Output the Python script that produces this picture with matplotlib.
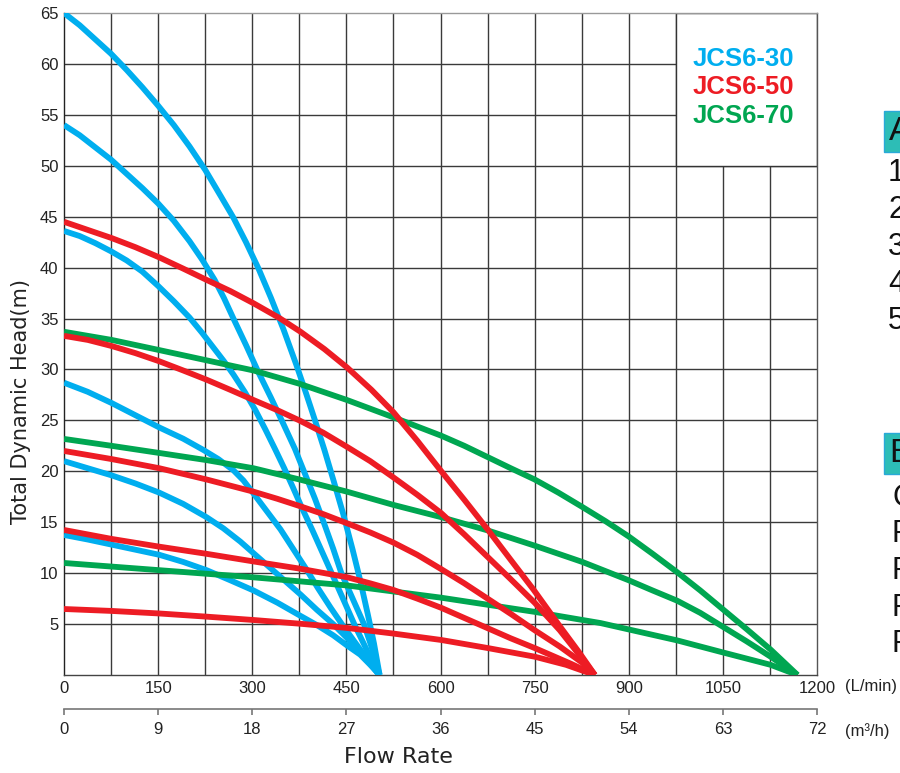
import matplotlib
matplotlib.use('Agg')
import matplotlib.pyplot as plt
from matplotlib.patches import Rectangle

# ---- curve data: flow rate (L/min) vs total dynamic head (m) ----
# JCS6-30 (blue), six stage curves
jcs30_q = [
    [0, 25, 50, 75, 100, 125, 150, 175, 200, 225, 250, 270, 290, 310, 330, 350, 370, 385,
     400, 415, 430, 445, 460, 472, 484, 494, 503],
    [0, 25, 50, 75, 100, 125, 150, 175, 200, 220, 240, 255, 270, 290, 310, 330, 350, 368,
     385, 400, 415, 429, 442, 460, 478, 491, 503],
    [0, 25, 50, 75, 100, 125, 150, 175, 200, 220, 240, 255, 270, 288, 305, 321, 337, 351,
     365, 380, 396, 412, 428, 446, 464, 483, 502],
    [0, 38, 76, 114, 152, 190, 222, 246, 270, 286, 301, 323, 345, 365, 385, 405, 425, 445,
     465, 484, 502],
    [0, 38, 76, 114, 152, 190, 227, 254, 281, 305, 329, 353, 377, 403, 429, 450, 470, 487, 503],
    [0, 38, 76, 114, 152, 190, 227, 265, 302, 340, 377, 403, 429, 451, 472, 488, 503],
]
jcs30_h = [
    [65.0, 63.8, 62.4, 61.0, 59.4, 57.7, 55.9, 54.0, 51.9, 49.6, 47.0, 44.9, 42.5, 39.9,
     37.0, 33.9, 30.5, 27.8, 25.0, 22.1, 19.0, 15.8, 12.3, 9.3, 6.0, 3.1, 0],
    [54.0, 53.0, 51.8, 50.6, 49.2, 47.8, 46.3, 44.6, 42.6, 40.8, 38.8, 37.0, 35.0, 32.4,
     29.7, 27.2, 24.6, 22.2, 19.6, 17.3, 14.8, 12.4, 10.0, 7.5, 5.0, 2.6, 0],
    [43.6, 43.1, 42.4, 41.6, 40.7, 39.6, 38.2, 36.7, 35.1, 33.6, 32.0, 30.8, 29.5, 27.8,
     26.0, 24.1, 22.1, 20.3, 18.4, 16.3, 14.2, 12.0, 9.8, 7.3, 4.8, 2.4, 0],
    [28.7, 27.8, 26.7, 25.5, 24.3, 23.2, 22.1, 21.2, 20.1, 19.1, 17.9, 16.1, 14.3, 12.4,
     10.5, 8.5, 6.6, 4.8, 3.1, 1.5, 0],
    [21.0, 20.3, 19.6, 18.8, 17.9, 16.8, 15.5, 14.4, 13.1, 11.8, 10.5, 9.2, 7.9, 6.4, 5.0,
     3.7, 2.4, 1.2, 0],
    [13.75, 13.3, 12.8, 12.3, 11.8, 11.1, 10.3, 9.3, 8.3, 7.1, 5.8, 4.9, 3.9, 2.9, 2.0,
     1.0, 0],
]

# JCS6-50 (red), five stage curves
jcs50_q = [
    [0, 38, 76, 114, 152, 190, 227, 265, 302, 342, 377, 415, 451, 490, 525, 563, 600, 638,
     675, 712, 748, 790, 820, 846],
    [0, 38, 76, 114, 152, 190, 227, 265, 302, 340, 375, 413, 451, 488, 525, 563, 601, 638,
     675, 712, 750, 790, 826, 846],
    [0, 76, 152, 227, 302, 340, 375, 413, 451, 488, 525, 563, 601, 638, 675, 712, 750, 790,
     826, 846],
    [0, 76, 152, 227, 302, 375, 451, 488, 525, 563, 601, 638, 675, 712, 750, 808, 846],
    [0, 76, 152, 227, 302, 377, 451, 526, 601, 675, 750, 800, 846],
]
jcs50_h = [
    [44.5, 43.7, 42.9, 42.0, 41.0, 39.9, 38.8, 37.7, 36.5, 35.1, 33.7, 32.0, 30.2, 28.0,
     25.8, 23.0, 20.1, 17.2, 14.3, 11.3, 8.4, 4.8, 2.3, 0],
    [33.3, 32.9, 32.3, 31.6, 30.8, 29.9, 29.0, 28.0, 27.0, 26.0, 25.0, 23.8, 22.4, 21.0,
     19.4, 17.7, 15.9, 13.8, 11.6, 9.4, 7.1, 4.4, 1.6, 0],
    [22.0, 21.2, 20.3, 19.2, 18.0, 17.3, 16.6, 15.8, 14.9, 14.0, 13.0, 11.8, 10.4, 9.0,
     7.5, 6.0, 4.4, 2.8, 1.2, 0],
    [14.24, 13.36, 12.6, 11.9, 11.15, 10.45, 9.6, 9.0, 8.35, 7.5, 6.6, 5.6, 4.6, 3.6, 2.65,
     1.1, 0],
    [6.48, 6.29, 6.04, 5.73, 5.40, 5.03, 4.62, 4.06, 3.44, 2.65, 1.80, 1.0, 0],
]

# JCS6-70 (green), three stage curves
jcs70_q = [
    [0, 76, 152, 227, 302, 375, 451, 525, 563, 601, 638, 675, 712, 750, 788, 826, 863, 900,
     938, 977, 1014, 1051, 1088, 1126, 1169],
    [0, 76, 152, 227, 302, 375, 451, 525, 601, 675, 750, 826, 900, 938, 977, 1014, 1051,
     1088, 1126, 1169],
    [0, 150, 300, 450, 600, 750, 855, 977, 1051, 1126, 1169],
]
jcs70_h = [
    [33.7, 32.9, 31.9, 30.9, 29.9, 28.6, 27.0, 25.3, 24.4, 23.5, 22.5, 21.4, 20.3, 19.2,
     17.9, 16.5, 15.1, 13.6, 11.9, 10.1, 8.3, 6.4, 4.5, 2.5, 0],
    [23.18, 22.5, 21.8, 21.1, 20.3, 19.2, 18.0, 16.7, 15.5, 14.2, 12.7, 11.1, 9.3, 8.3,
     7.3, 6.1, 4.7, 3.3, 1.8, 0],
    [11.0, 10.3, 9.6, 8.8, 7.6, 6.2, 5.1, 3.4, 2.2, 1.0, 0],
]

models = ['JCS6-30', 'JCS6-50', 'JCS6-70']
colors = ['#00AEEF', '#ED1C24', '#00A651']

x_ticks = [0, 150, 300, 450, 600, 750, 900, 1050, 1200]
m3h_ticks = [0, 9, 18, 27, 36, 45, 54, 63, 72]
y_ticks = [5, 10, 15, 20, 25, 30, 35, 40, 45, 50, 55, 60, 65]

side_numbers = ['1', '2', '3', '4', '5']
side_letters = ['C', 'P', 'P', 'P', 'P']

plt.rcParams['font.family'] = ['Liberation Sans', 'DejaVu Sans']

W, H = 900, 773
fig = plt.figure(figsize=(W / 100, H / 100), dpi=100)
ax = fig.add_axes([64 / W, 1 - 675 / H, (817 - 64) / W, (675 - 13) / H])

ax.set_xlim(0, 1200)
ax.set_ylim(0, 65)

# grid every 75 L/min and 5 m
grid_c = '#3a3a3a'
for q in range(75, 1200, 75):
    ax.axvline(q, color=grid_c, lw=1.0, zorder=1)
for h in range(5, 65, 5):
    ax.axhline(h, color=grid_c, lw=1.0, zorder=1)

# legend box cut out of the grid in the upper right
ax.add_patch(Rectangle((975, 50), 225, 15, facecolor='white', edgecolor='#333333',
                       lw=1.0, zorder=2))

# curves
for qs, hs, c in [(jcs30_q, jcs30_h, colors[0]),
                  (jcs70_q, jcs70_h, colors[2]),
                  (jcs50_q, jcs50_h, colors[1])]:
    for q, h in zip(qs, hs):
        ax.plot(q, h, color=c, lw=4.2, solid_capstyle='butt',
                solid_joinstyle='round', zorder=3)

for i, (name, c) in enumerate(zip(models, colors)):
    fig.text(693 / W, 1 - (59 + 28.5 * i) / H, name, color=c, fontsize=18.5,
             fontweight='bold', ha='left', va='center')

ax.set_xticks(x_ticks)
ax.set_yticks(y_ticks)
ax.tick_params(axis='both', length=0, labelsize=12, labelcolor='#222222')
ax.tick_params(axis='x', pad=4)
ax.tick_params(axis='y', pad=4)

ax.spines['left'].set_color('#222222')
ax.spines['bottom'].set_color('#444444')
ax.spines['right'].set_color('#555555')
ax.spines['top'].set_color('#999999')
for s in ax.spines.values():
    s.set_linewidth(1.0)

# second flow axis in m3/h
sec = ax.secondary_xaxis(-34 / 662, functions=(lambda q: q * 0.06, lambda m: m / 0.06))
sec.set_xticks(m3h_ticks)
sec.spines['bottom'].set_color('#777777')
sec.spines['bottom'].set_linewidth(1.2)
sec.tick_params(axis='x', direction='out', length=4.5, width=1.2, color='#777777',
                labelsize=12, labelcolor='#222222', pad=5)

fig.text(845 / W, 1 - 686 / H, '(L/min)', fontsize=12, color='#222222', va='center')
fig.text(845 / W, 1 - 731 / H, '(m³/h)', fontsize=12, color='#222222', va='center')

fig.text(398 / W, 1 - 757 / H, 'Flow Rate', fontsize=16, color='#222222',
         ha='center', va='center', family='DejaVu Sans')
fig.text(21 / W, 1 - 402 / H, 'Total Dynamic Head(m)', fontsize=15, color='#222222',
         ha='center', va='center', rotation=90, family='DejaVu Sans')

# text cut off at the right edge of the picture
fig.text(889 / W, 1 - 131 / H, 'A', fontsize=24, color='#111111', va='center', ha='left',
         bbox=dict(boxstyle='square,pad=0.15', fc='#2DBDB6', ec='#29A9D8', lw=1))
for i, t in enumerate(side_numbers):
    fig.text(888 / W, 1 - (173 + 37 * i) / H, t, fontsize=22, color='#111111',
             va='center', ha='left')
fig.text(889 / W, 1 - 453 / H, 'B', fontsize=24, color='#111111', va='center', ha='left',
         bbox=dict(boxstyle='square,pad=0.15', fc='#2DBDB6', ec='#29A9D8', lw=1))
for i, t in enumerate(side_letters):
    fig.text(892 / W, 1 - (498 + 36.5 * i) / H, t, fontsize=22, color='#111111',
             va='center', ha='left')

fig.savefig('out.png', dpi=100)
